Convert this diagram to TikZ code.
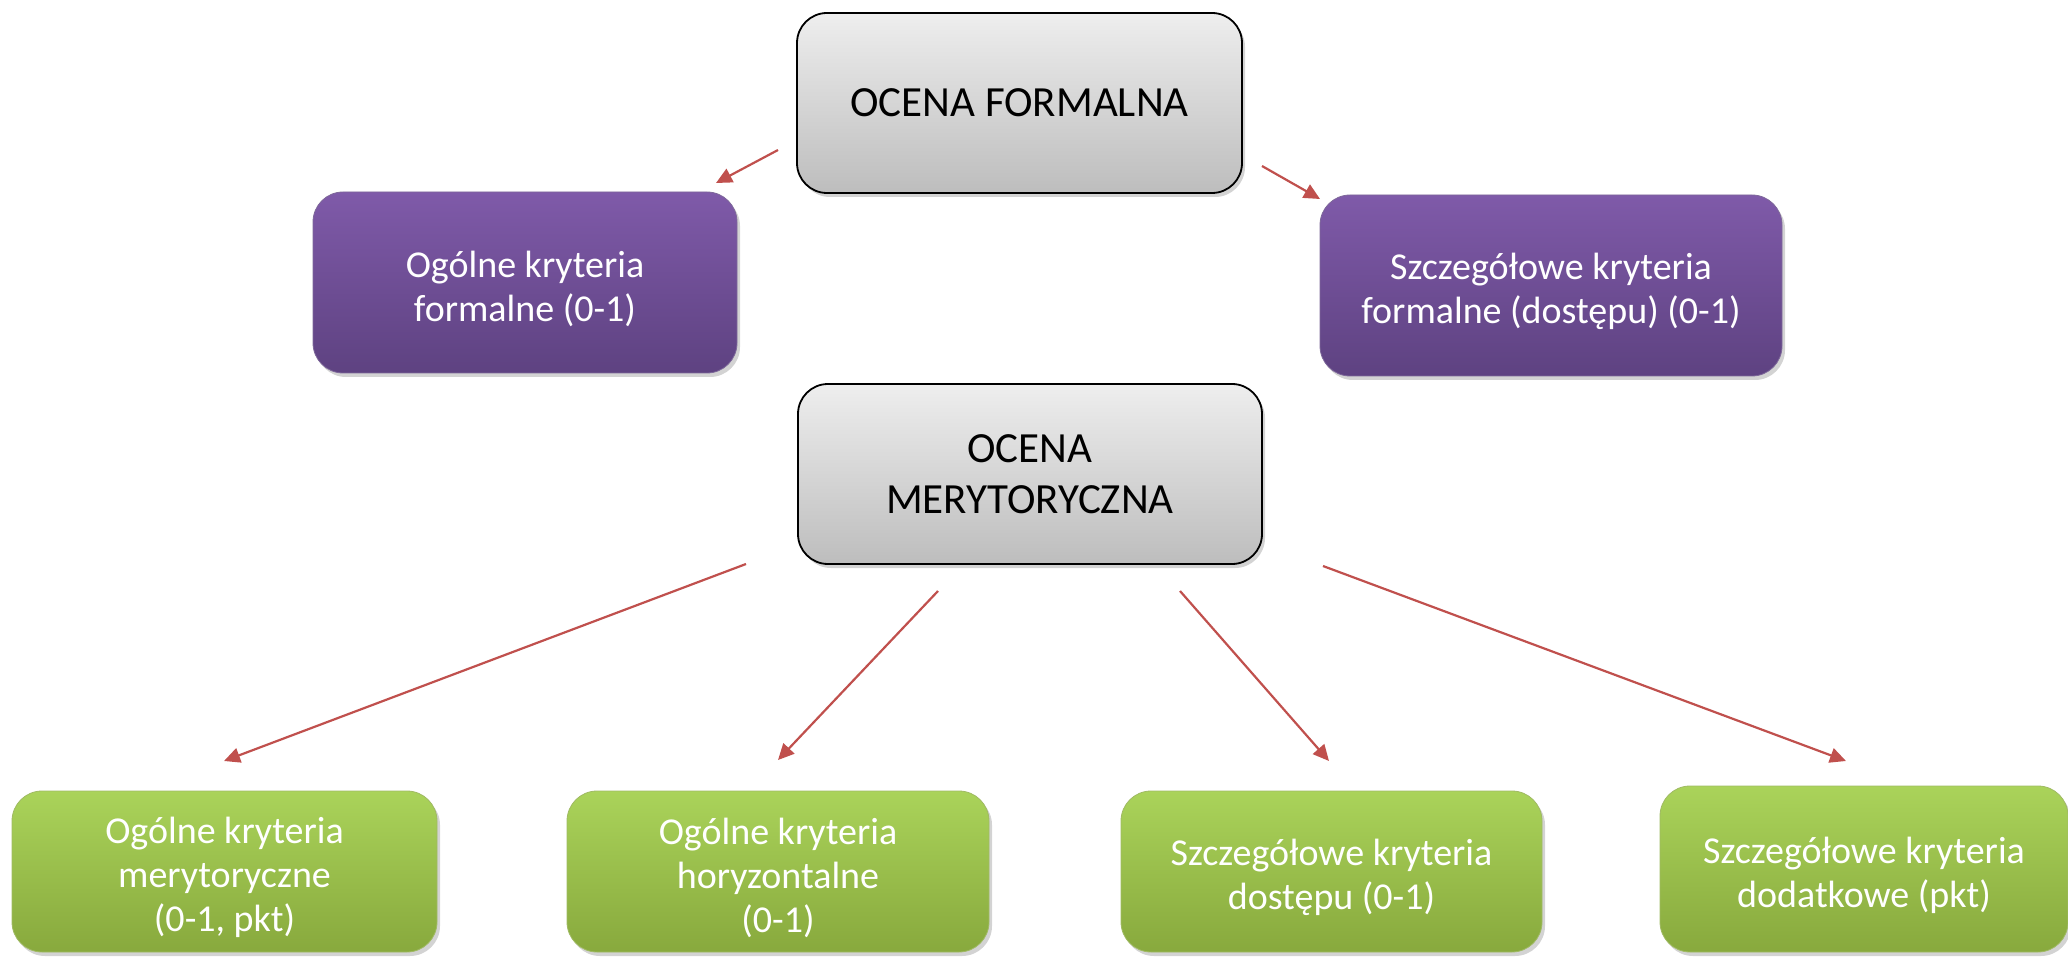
\documentclass[tikz,border=0pt]{standalone}
\usepackage{fontspec}
\setmainfont{Carlito}
\usetikzlibrary{shadows,arrows.meta}
\definecolor{grayT}{HTML}{EEEEEE}
\definecolor{grayB}{HTML}{BDBDBD}
\definecolor{purT}{HTML}{7F5AA9}
\definecolor{purB}{HTML}{5E4281}
\definecolor{grnT}{HTML}{AAD35A}
\definecolor{grnB}{HTML}{88A93D}
\definecolor{arr}{HTML}{C0504D}
\tikzset{
  base/.style={rectangle, rounded corners=15pt, align=center,
    drop shadow={shadow xshift=1.5pt, shadow yshift=-2pt, opacity=0.35}},
  graybox/.style={base, draw=black, line width=0.9pt, top color=grayT, bottom color=grayB, text=black,
    font=\fontsize{21.5}{25.5}\selectfont},
  purbox/.style={base, draw=purB!80, line width=0.4pt, top color=purT, bottom color=purB},
  grnbox/.style={base, draw=grnB!80, line width=0.4pt, top color=grnT, bottom color=grnB},
  wtxt/.style={align=center, text=white, font=\fontsize{19}{22}\selectfont, yshift=-3pt},
  link/.style={draw=arr, line width=1.1pt, -{Triangle[length=8pt,width=7.5pt]}}
}
\begin{document}
\begin{tikzpicture}[x=0.5pt,y=-0.5pt]
\useasboundingbox (0,0) rectangle (2068,957);
\node[graybox, minimum width=222.5pt, minimum height=90pt] (formal) at (1019.5,103) {OCENA FORMALNA};
\node[purbox, minimum width=212pt, minimum height=90.5pt, label={[wtxt]center:{Ogólne kryteria\\formalne (0-1)}}] (ogf) at (525,282.5) {};
\node[purbox, minimum width=231pt, minimum height=90.5pt, label={[wtxt]center:{Szczegółowe kryteria\\formalne (dostępu) (0-1)}}] (szf) at (1551,285.5) {};
\node[graybox, minimum width=232pt, minimum height=90pt] (mer) at (1030,474) {OCENA\\MERYTORYCZNA};
\node[grnbox, minimum width=212.5pt, minimum height=80.5pt, label={[wtxt]center:{Ogólne kryteria\\merytoryczne\\(0-1, pkt)}}] (g1) at (224.5,871.5) {};
\node[grnbox, minimum width=211pt, minimum height=80.5pt, label={[wtxt]center:{Ogólne kryteria\\horyzontalne\\(0-1)}}] (g2) at (778,871.5) {};
\node[grnbox, minimum width=210.5pt, minimum height=80.5pt, label={[wtxt]center:{Szczegółowe kryteria\\dostępu (0-1)}}] (g3) at (1331.5,871.5) {};
\node[grnbox, minimum width=204pt, minimum height=83pt, label={[wtxt]center:{Szczegółowe kryteria\\dodatkowe (pkt)}}] (g4) at (1864,869) {};
% connector end points (arrows float between boxes)
\coordinate (a1s) at (778,150); \coordinate (a1e) at (716,183);
\coordinate (a2s) at (1262,166); \coordinate (a2e) at (1320,199);
\coordinate (a3s) at (746,564); \coordinate (a3e) at (224,761);
\coordinate (a4s) at (938,591); \coordinate (a4e) at (778,760);
\coordinate (a5s) at (1180,591); \coordinate (a5e) at (1329,761);
\coordinate (a6s) at (1323,566); \coordinate (a6e) at (1846,761);
\draw[link] (a1s) -- (a1e);
\draw[link] (a2s) -- (a2e);
\draw[link] (a3s) -- (a3e);
\draw[link] (a4s) -- (a4e);
\draw[link] (a5s) -- (a5e);
\draw[link] (a6s) -- (a6e);
\end{tikzpicture}
\end{document}
